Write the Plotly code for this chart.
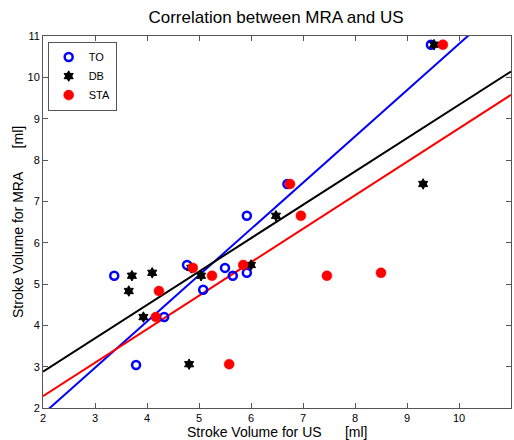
import numpy as np
import plotly.graph_objects as go

# TO (blue circles)
to_us = [3.37, 3.79, 4.33, 4.77, 5.08, 5.50, 5.65, 5.92, 5.92, 6.70, 9.46]
to_mra = [5.20, 3.04, 4.20, 5.46, 4.86, 5.39, 5.20, 5.27, 6.65, 7.42, 10.79]
# DB (black stars)
db_us = [3.65, 3.71, 3.93, 4.10, 4.81, 4.85, 5.04, 6.00, 6.48, 9.31, 9.52]
db_mra = [4.83, 5.20, 4.20, 5.27, 3.06, 5.39, 5.20, 5.46, 6.65, 7.42, 10.79]
# STA (red dots)
sta_us = [4.17, 4.23, 4.88, 5.25, 5.58, 5.85, 6.75, 6.96, 7.46, 8.50, 9.69]
sta_mra = [4.20, 4.83, 5.39, 5.20, 3.06, 5.46, 7.42, 6.65, 5.20, 5.27, 10.79]

x_line = [2, 11]

fig = go.Figure()

def fit_line(xs, ys):
    m, b = np.polyfit(xs, ys, 1)
    return [m * x + b for x in x_line]

fig.add_trace(go.Scatter(x=x_line, y=fit_line(to_us, to_mra), mode="lines",
                         line=dict(color="#0000ff", width=2), showlegend=False))
fig.add_trace(go.Scatter(x=x_line, y=fit_line(db_us, db_mra), mode="lines",
                         line=dict(color="#000000", width=2), showlegend=False))
fig.add_trace(go.Scatter(x=x_line, y=fit_line(sta_us, sta_mra), mode="lines",
                         line=dict(color="#ff0000", width=2), showlegend=False))

fig.add_trace(go.Scatter(x=to_us, y=to_mra, mode="markers", name="TO",
                         marker=dict(symbol="circle-open", size=8, color="#0000ff",
                                     line=dict(width=2.5, color="#0000ff"))))
fig.add_trace(go.Scatter(x=db_us, y=db_mra, mode="markers", name="DB",
                         marker=dict(symbol="hexagram", size=8, color="#000000",
                                     line=dict(width=1, color="#000000"))))
fig.add_trace(go.Scatter(x=sta_us, y=sta_mra, mode="markers", name="STA",
                         marker=dict(symbol="circle", size=10, color="#ff0000",
                                     line=dict(width=0.5, color="#ff0000"))))

nb = "\u00a0"
font_family = "Arial, Liberation Sans"
axis_common = dict(range=[2, 11], dtick=1, tick0=2, showgrid=False, zeroline=False,
                   showline=True, linecolor="#555555", linewidth=1, mirror="ticks",
                   ticks="inside", ticklen=5, tickcolor="#555555",
                   tickfont=dict(family=font_family, size=11, color="#000000"))

fig.update_layout(
    width=514, height=440,
    margin=dict(l=43, r=3, t=36, b=32),
    paper_bgcolor="white", plot_bgcolor="white",
    title=dict(text="Correlation between MRA and US", x=0.537, xanchor="center",
               y=0.975, yanchor="top",
               font=dict(family=font_family, size=17, color="#000000")),
    xaxis=dict(axis_common),
    yaxis=dict(axis_common),
    legend=dict(x=0.01, y=0.985, xanchor="left", yanchor="top",
                bgcolor="white", bordercolor="#555555", borderwidth=1,
                font=dict(family=font_family, size=11, color="#000000"),
                tracegroupgap=0),
    showlegend=True,
    annotations=[
        dict(text="Stroke Volume for US" + nb * 6 + "[ml]", xref="paper", yref="paper",
             x=0.5, y=0, yshift=-24, xanchor="center", yanchor="middle", showarrow=False,
             font=dict(family=font_family, size=14, color="#000000")),
        dict(text="Stroke Volume for MRA" + nb * 6 + "[ml]", xref="paper", yref="paper",
             x=0, y=0.5, xshift=-25, xanchor="center", yanchor="middle", showarrow=False,
             textangle=-90,
             font=dict(family=font_family, size=14, color="#000000")),
    ],
)

fig.write_html("out.html")
